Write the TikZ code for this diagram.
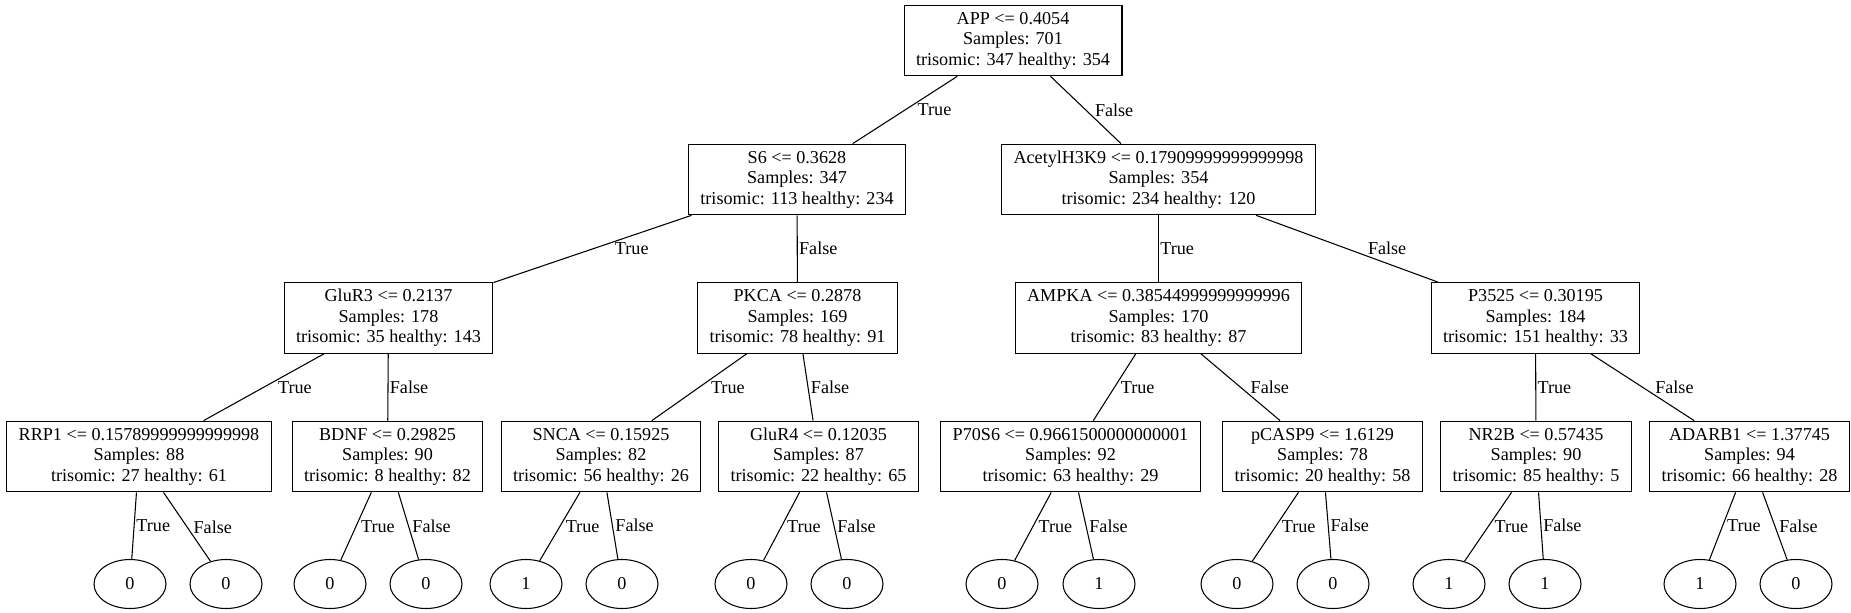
\documentclass[tikz,border=0pt]{standalone}
\usepackage{fontspec}
\setmainfont{Liberation Serif}
\usetikzlibrary{shapes.geometric}

\begin{document}
\begin{tikzpicture}[x=0.75pt,y=-0.75pt,
    split/.style={rectangle,draw,line width=0.8pt,align=center,minimum height=53pt,inner xsep=9pt,font=\fontsize{13.6}{15.4}\selectfont},
    leaf/.style={ellipse,draw,line width=0.8pt,minimum width=54pt,minimum height=36.75pt,inner sep=0pt,font=\fontsize{13.6}{15.4}\selectfont},
    branch/.style={line width=0.8pt},
    lbl/.style={anchor=west,inner sep=1pt,xshift=#1*5.25pt,font=\fontsize{13.6}{15.4}\selectfont},
    lbl/.default=0]
    \useasboundingbox (0,0) rectangle (1851,613);

    % Racine
    \node[split] (app) at (1013,40.5) {APP <= 0.4054\\Samples: 701\\trisomic: 347 healthy: 354};

    % Niveau 1
    \node[split] (s6) at (797,179.5) {S6 <= 0.3628\\Samples: 347\\trisomic: 113 healthy: 234};
    \node[split] (acetyl) at (1158.5,179.5) {AcetylH3K9 <= 0.17909999999999998\\Samples: 354\\trisomic: 234 healthy: 120};

    % Niveau 2
    \node[split] (glur3) at (388.5,318) {GluR3 <= 0.2137\\Samples: 178\\trisomic: 35 healthy: 143};
    \node[split] (pkca) at (797.5,318) {PKCA <= 0.2878\\Samples: 169\\trisomic: 78 healthy: 91};
    \node[split] (ampka) at (1158.5,318) {AMPKA <= 0.38544999999999996\\Samples: 170\\trisomic: 83 healthy: 87};
    \node[split] (p3525) at (1535.5,318) {P3525 <= 0.30195\\Samples: 184\\trisomic: 151 healthy: 33};

    % Niveau 3
    \node[split] (rrp1) at (139,456.5) {RRP1 <= 0.15789999999999998\\Samples: 88\\trisomic: 27 healthy: 61};
    \node[split] (bdnf) at (387.5,456.5) {BDNF <= 0.29825\\Samples: 90\\trisomic: 8 healthy: 82};
    \node[split] (snca) at (601,456.5) {SNCA <= 0.15925\\Samples: 82\\trisomic: 56 healthy: 26};
    \node[split] (glur4) at (818.5,456.5) {GluR4 <= 0.12035\\Samples: 87\\trisomic: 22 healthy: 65};
    \node[split] (p70s6) at (1070.5,456.5) {P70S6 <= 0.9661500000000001\\Samples: 92\\trisomic: 63 healthy: 29};
    \node[split] (pcasp9) at (1322.5,456.5) {pCASP9 <= 1.6129\\Samples: 78\\trisomic: 20 healthy: 58};
    \node[split] (nr2b) at (1536,456.5) {NR2B <= 0.57435\\Samples: 90\\trisomic: 85 healthy: 5};
    \node[split] (adarb1) at (1749.5,456.5) {ADARB1 <= 1.37745\\Samples: 94\\trisomic: 66 healthy: 28};

    % Feuilles
    \node[leaf] (l1) at (130,584) {0};
    \node[leaf] (l2) at (226,584) {0};
    \node[leaf] (l3) at (330,584) {0};
    \node[leaf] (l4) at (426,584) {0};
    \node[leaf] (l5) at (526,584) {1};
    \node[leaf] (l6) at (622,584) {0};
    \node[leaf] (l7) at (751,584) {0};
    \node[leaf] (l8) at (847,584) {0};
    \node[leaf] (l9) at (1002,584) {0};
    \node[leaf] (l10) at (1099,584) {1};
    \node[leaf] (l11) at (1237,584) {0};
    \node[leaf] (l12) at (1333,584) {0};
    \node[leaf] (l13) at (1449,584) {1};
    \node[leaf] (l14) at (1545,584) {1};
    \node[leaf] (l15) at (1700,584) {1};
    \node[leaf] (l16) at (1796,584) {0};

    % Branches
    \draw[branch] (app) -- node[lbl=1.55] {True} (s6);
    \draw[branch] (app) -- node[lbl=1.05] {False} (acetyl);
    \draw[branch] (s6) -- node[lbl=2.95] {True} (glur3);
    \draw[branch] (s6) -- node[lbl] {False} (pkca);
    \draw[branch] (acetyl) -- node[lbl] {True} (ampka);
    \draw[branch] (acetyl) -- node[lbl=2.72] {False} (p3525);
    \draw[branch] (glur3) -- node[lbl=1.8] {True} (rrp1);
    \draw[branch] (glur3) -- node[lbl] {False} (bdnf);
    \draw[branch] (pkca) -- node[lbl=1.42] {True} (snca);
    \draw[branch] (pkca) -- node[lbl=0.15] {False} (glur4);
    \draw[branch] (ampka) -- node[lbl=0.64] {True} (p70s6);
    \draw[branch] (ampka) -- node[lbl=1.18] {False} (pcasp9);
    \draw[branch] (p3525) -- node[lbl] {True} (nr2b);
    \draw[branch] (p3525) -- node[lbl=1.55] {False} (adarb1);

    % Branches vers les feuilles
    \draw[branch] (rrp1) -- node[lbl=0.07] {True} (l1);
    \draw[branch] (rrp1) -- node[lbl=0.68] {False} (l2);
    \draw[branch] (bdnf) -- node[lbl=0.45] {True} (l3);
    \draw[branch] (bdnf) -- node[lbl=0.3] {False} (l4);
    \draw[branch] (snca) -- node[lbl=0.59] {True} (l5);
    \draw[branch] (snca) -- node[lbl=0.17] {False} (l6);
    \draw[branch] (glur4) -- node[lbl=0.53] {True} (l7);
    \draw[branch] (glur4) -- node[lbl=0.22] {False} (l8);
    \draw[branch] (p70s6) -- node[lbl=0.54] {True} (l9);
    \draw[branch] (p70s6) -- node[lbl=0.22] {False} (l10);
    \draw[branch] (pcasp9) -- node[lbl=0.67] {True} (l11);
    \draw[branch] (pcasp9) -- node[lbl=0.08] {False} (l12);
    \draw[branch] (nr2b) -- node[lbl=0.68] {True} (l13);
    \draw[branch] (nr2b) -- node[lbl=0.07] {False} (l14);
    \draw[branch] (adarb1) -- node[lbl=0.39] {True} (l15);
    \draw[branch] (adarb1) -- node[lbl=0.37] {False} (l16);
\end{tikzpicture}
\end{document}
